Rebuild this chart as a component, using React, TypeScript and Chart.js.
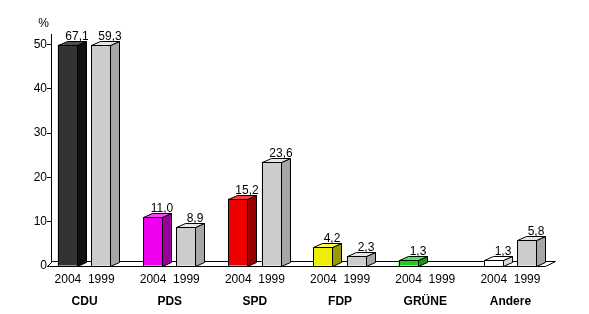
import React, { useEffect, useRef } from 'react';
import { Chart, registerables } from 'chart.js';

Chart.register(...registerables);

// ---- data ----
const parties = ['CDU', 'PDS', 'SPD', 'FDP', 'GRÜNE', 'Andere'];
const years = ['2004', '1999'];
const values2004: (number | null)[] = [67.1, 11.0, 15.2, 4.2, 1.3, 1.3];
const values1999: (number | null)[] = [59.3, 8.9, 23.6, 2.3, null, 5.8];
const yTickStep = 10;
const yMin = 0;
const yCap = 50; // drawn bars are cut at this value
const yAxisTop = 52.4;
const unitLabel = '%';

// ---- styles ----
const front2004 = ['#333333', '#ee00ee', '#ee0000', '#eeee00', '#22cc22', '#ffffff'];
const side2004 = ['#101010', '#990099', '#990000', '#999900', '#119911', '#d8d8d8'];
const top2004 = ['#4c4c4c', '#ff40ff', '#ff3a3a', '#ffff50', '#44ee44', '#ffffff'];
const front1999 = '#cccccc';
const side1999 = '#a6a6a6';
const top1999 = '#e6e6e6';
const DX = 9;
const DY = 4;
const FONT = '"Liberation Sans", Arial, sans-serif';
const Y_AXIS_AT = -0.385; // position of value axis in category units

const fmt = (v: number) => v.toFixed(1).replace('.', ',');

const threeD = {
  id: 'threeD',
  beforeDatasetsDraw(chart: any) {
    const { ctx, chartArea, scales } = chart;
    const xs = scales.x;
    const ys = scales.y;
    const axisX = Math.round(xs.getPixelForValue(Y_AXIS_AT)) + 0.5;
    const y0 = Math.round(ys.getPixelForValue(0)) + 0.5;
    ctx.save();
    ctx.lineWidth = 1;
    ctx.strokeStyle = '#000';
    ctx.fillStyle = '#fff';
    ctx.beginPath();
    ctx.moveTo(axisX - 5, y0);
    ctx.lineTo(Math.round(chartArea.right) - 7.5, y0);
    ctx.lineTo(Math.round(chartArea.right) + 2.5, y0 - 5);
    ctx.lineTo(axisX, y0 - 5);
    ctx.closePath();
    ctx.fill();
    ctx.stroke();
    ctx.fillStyle = '#000';
    ctx.font = `12px ${FONT}`;
    ctx.textAlign = 'center';
    ctx.textBaseline = 'alphabetic';
    ctx.fillText(unitLabel, axisX - 9, chartArea.top - 7);
    ctx.restore();
  },
  afterDatasetsDraw(chart: any) {
    const { ctx } = chart;
    ctx.save();
    ctx.lineWidth = 1;
    ctx.strokeStyle = '#000';
    chart.data.datasets.forEach((ds: any, i: number) => {
      const meta = chart.getDatasetMeta(i);
      const raw = i === 0 ? values2004 : values1999;
      meta.data.forEach((bar: any, j: number) => {
        const v = raw[j];
        if (v == null) return;
        const p = bar.getProps(['x', 'y', 'base', 'width'], true);
        const l = Math.round(p.x - p.width / 2) + 0.5;
        const r = Math.round(p.x + p.width / 2) - 0.5;
        const t = Math.round(p.y) + 0.5;
        const b = Math.round(p.base) + 0.5;
        const sideC = i === 0 ? side2004[j] : side1999;
        const topC = i === 0 ? top2004[j] : top1999;
        // side
        ctx.beginPath();
        ctx.moveTo(r, t);
        ctx.lineTo(r + DX, t - DY);
        ctx.lineTo(r + DX, b - DY);
        ctx.lineTo(r, b);
        ctx.closePath();
        ctx.fillStyle = sideC;
        ctx.fill();
        ctx.stroke();
        // top
        ctx.beginPath();
        ctx.moveTo(l, t);
        ctx.lineTo(l + DX, t - DY);
        ctx.lineTo(r + DX, t - DY);
        ctx.lineTo(r, t);
        ctx.closePath();
        ctx.fillStyle = topC;
        ctx.fill();
        ctx.stroke();
        // front outline
        ctx.strokeRect(l, t, r - l, b - t);
        // value label
        ctx.fillStyle = '#000';
        ctx.font = `12px ${FONT}`;
        ctx.textAlign = 'center';
        ctx.textBaseline = 'alphabetic';
        ctx.fillText(fmt(v), (l + r) / 2 + DX, t - DY - 2);
      });
    });
    ctx.restore();
  },
};

export default function App() {
  const ref = useRef<HTMLCanvasElement | null>(null);
  useEffect(() => {
    document.body.style.margin = '0';
    const canvas = ref.current!;
    const clamp = (a: (number | null)[]) => a.map((v) => (v == null ? null : Math.min(v, yCap)));
    const chart = new Chart(canvas, {
      type: 'bar',
      data: {
        labels: parties,
        datasets: [
          {
            label: years[0],
            data: clamp(values2004),
            backgroundColor: front2004,
            borderWidth: 0,
            categoryPercentage: 0.786,
            barPercentage: 0.597,
            yAxisID: 'y',
          },
          {
            label: years[1],
            data: clamp(values1999),
            backgroundColor: front1999,
            borderWidth: 0,
            categoryPercentage: 0.786,
            barPercentage: 0.597,
            yAxisID: 'y',
          },
        ],
      },
      options: {
        responsive: false,
        animation: false,
        devicePixelRatio: 1,
        layout: { padding: { top: 34, left: 42, right: 36, bottom: 0 } },
        plugins: { legend: { display: false }, tooltip: { enabled: false }, title: { display: false } },
        scales: {
          x: {
            type: 'category',
            offset: true,
            weight: 0,
            grid: { display: false, drawTicks: false },
            border: { display: false },
            ticks: {
              callback: () => `${years[0]}  ${years[1]}`,
              color: '#000',
              font: { family: FONT, size: 12 },
              padding: 6,
              maxRotation: 0,
              autoSkip: false,
            },
            afterFit: (s: any) => {
              s.height = 22;
            },
          },
          x2: {
            type: 'category',
            labels: parties,
            offset: true,
            position: 'bottom',
            weight: 1,
            grid: { display: false, drawTicks: false },
            border: { display: false },
            ticks: {
              color: '#000',
              font: { family: FONT, size: 12, weight: 'bold' },
              padding: 6,
              maxRotation: 0,
              autoSkip: false,
            },
            afterFit: (s: any) => {
              s.height = 26;
            },
          },
          y: {
            type: 'linear',
            position: { x: Y_AXIS_AT } as any,
            min: yMin,
            max: yAxisTop,
            grid: { display: true, drawOnChartArea: false, drawTicks: true, tickLength: 4, color: '#000' },
            border: { display: true, color: '#000', width: 1 },
            ticks: { stepSize: yTickStep, includeBounds: false, display: false },
          },
          yl: {
            type: 'linear',
            position: 'left',
            min: yMin,
            max: yAxisTop,
            grid: { display: false, drawTicks: false },
            border: { display: false },
            ticks: {
              stepSize: yTickStep,
              includeBounds: false,
              color: '#000',
              mirror: true,
              crossAlign: 'far',
              padding: -8.35,
              font: { family: FONT, size: 12 },
            },
            afterFit: (s: any) => {
              s.width = 0;
            },
          },
        },
      },
      plugins: [threeD],
    } as any);
    return () => chart.destroy();
  }, []);
  return <canvas ref={ref} width={589} height={314} style={{ display: 'block', width: 589, height: 314 }} />;
}
